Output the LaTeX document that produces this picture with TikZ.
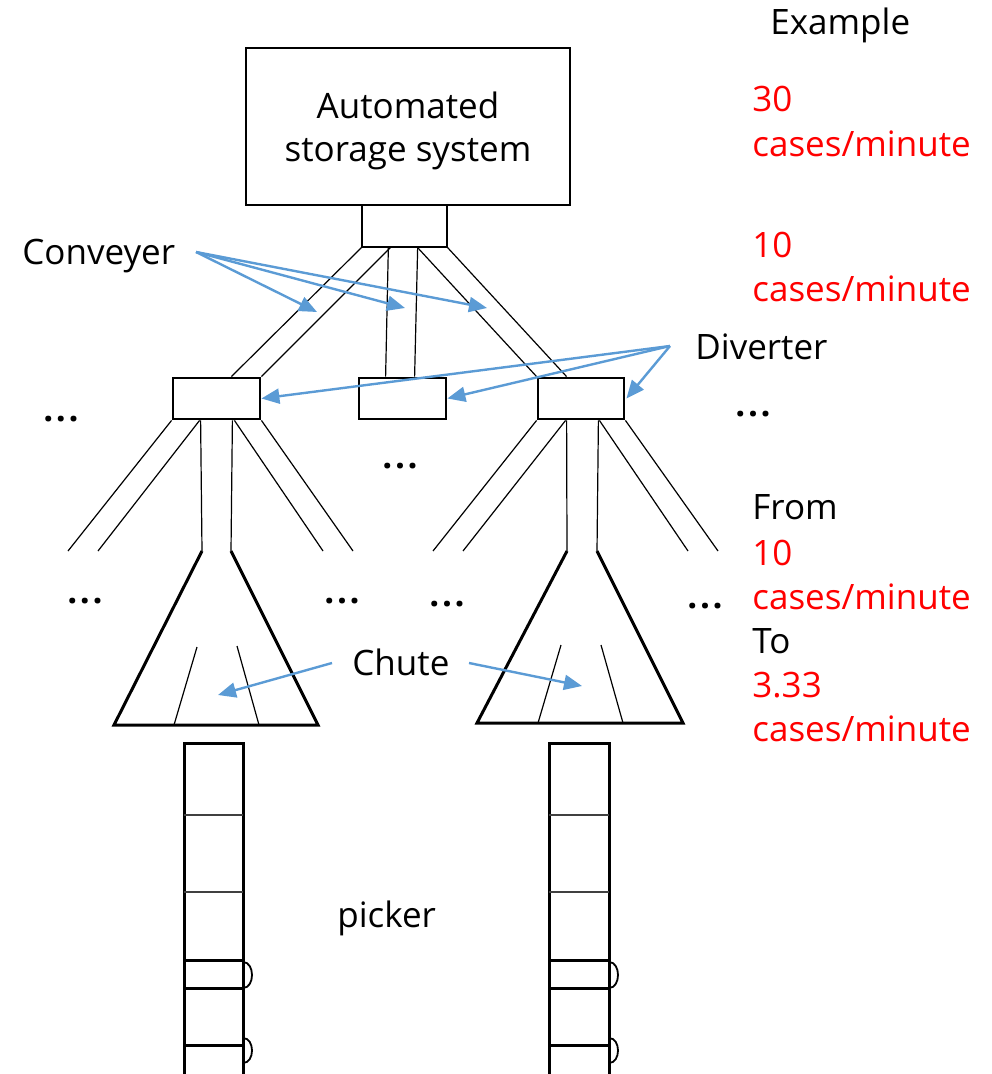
\documentclass[tikz,border=0pt]{standalone}
\usepackage{fontspec}
\setmainfont{Open Sans}
\usetikzlibrary{arrows.meta,calc}
\definecolor{callout}{HTML}{5B9BD5}
\definecolor{rate}{HTML}{FF0000}
\newcommand{\spacedots}{.\kern1.3pt.\kern1.3pt.}

\begin{document}
\begin{tikzpicture}[x=0.5pt,y=-0.5pt,
  lbl/.style={font=\fontsize{17.5}{21}\selectfont, inner sep=0pt, anchor=base west},
  ratelbl/.style={lbl, text=rate},
  ellip/.style={font=\fontsize{17.5}{21}\selectfont\bfseries, inner sep=0pt, anchor=base},
  box/.style={draw, line width=1.4pt, inner sep=0pt},
  divbox/.style={box, minimum height=20.5pt},
  belt/.style={line width=0.6pt},
  chutewall/.style={line width=1.5pt},
  lane/.style={line width=0.6pt},
  column/.style={line width=1.5pt},
  slot/.style={line width=0.7pt, black!75},
  pointer/.style={draw=callout, line width=1.2pt, -{Triangle[length=9pt,width=7.5pt]}}
]
\useasboundingbox (0,0) rectangle (991,1074);

% storage system and its outlet
\node[box, minimum width=162pt, minimum height=78.5pt] (ass) at (408,126.5) {};
\node[font=\fontsize{17.5}{21.5}\selectfont, align=center, inner sep=0pt]
      (assLabel) at ($(ass.center)+(0,4)$) {Automated\\storage system};
\node[draw, line width=0.65pt, minimum width=42.5pt, minimum height=21pt,
      inner sep=0pt] (hub) at (404.5,226) {};

% diverters
\node[divbox, minimum width=43.5pt] (divL) at (216.5,398.5) {};
\node[divbox, minimum width=43.5pt] (divM) at (402.5,398.5) {};
\node[divbox, minimum width=43pt]   (divR) at (581,398.5) {};

% conveyors from the outlet to the diverters
\draw[belt] (hub.south west) -- ($(divL.north east)+(-30,0)$);
\draw[belt] ($(hub.south west)+(29,0)$) -- (divL.north east);
\draw[belt] ($(hub.south west)+(27,0)$) -- ($(divM.north west)+(28,0)$);
\draw[belt] ($(hub.south east)+(-30,0)$) -- ($(divM.north west)+(57,0)$);
\draw[belt] ($(hub.south east)+(-30,0)$) -- (divR.north west);
\draw[belt] (hub.south east) -- ($(divR.north west)+(30,0)$);

% open ends of the branch conveyors
\coordinate (la1) at (68,551);  \coordinate (la2) at (98,551);
\coordinate (lb1) at (323,551); \coordinate (lb2) at (353,551);
\coordinate (ra1) at (433,551); \coordinate (ra2) at (463,551);
\coordinate (rb1) at (688,551); \coordinate (rb2) at (718,551);

% chute corners
\coordinate (lcTL) at (202,551); \coordinate (lcTR) at (231,551);
\coordinate (lcBL) at (114,725); \coordinate (lcBR) at (318,725);
\coordinate (rcTL) at (567,551); \coordinate (rcTR) at (597,551);
\coordinate (rcBL) at (477,723); \coordinate (rcBR) at (683,723);

% branches below the left diverter
\draw[belt] (divL.south west) -- (la1);
\draw[belt] ($(divL.south west)+(28,0)$) -- (la2);
\draw[belt] ($(divL.south west)+(29,0)$) -- (lcTL);
\draw[belt] ($(divL.south east)+(-29,0)$) -- (lcTR);
\draw[belt] ($(divL.south east)+(-27,0)$) -- (lb1);
\draw[belt] (divL.south east) -- (lb2);

% branches below the right diverter
\draw[belt] (divR.south west) -- (ra1);
\draw[belt] ($(divR.south west)+(29,0)$) -- (ra2);
\draw[belt] ($(divR.south west)+(30,0)$) -- (rcTL);
\draw[belt] ($(divR.south east)+(-27,0)$) -- (rcTR);
\draw[belt] ($(divR.south east)+(-26,0)$) -- (rb1);
\draw[belt] (divR.south east) -- (rb2);

% chutes
\draw[chutewall] (lcTL) -- (lcBL) -- (lcBR) -- (lcTR);
\draw[lane] (197,647) -- (174,725);
\draw[lane] (237,646) -- (259,725);
\draw[chutewall] (rcTL) -- (rcBL) -- (rcBR) -- (rcTR);
\draw[lane] (561,645) -- (538,723);
\draw[lane] (601,645) -- (623,723);

% picker lanes
\foreach \xl/\xr in {184/243, 549/609} {
  \draw[column] (\xl,1074) -- (\xl,743) -- (\xr,743) -- (\xr,1074);
  \draw[slot] (\xl,815) -- (\xr,815);
  \draw[slot] (\xl,892) -- (\xr,892);
  \draw[column] (\xl,960) -- (\xr,960);
  \draw[column] (\xl,988) -- (\xr,988);
  \draw[column] (\xl,1045) -- (\xr,1045);
  \draw[line width=0.9pt] (\xr,962) .. controls (\xr+12,962) and (\xr+12,988) .. (\xr,988);
  \draw[line width=0.9pt] (\xr,1038) .. controls (\xr+12,1038) and (\xr+12,1063) .. (\xr,1063);
}

% ellipses marking further branches
\node[ellip] (d1) at (61,422) {\spacedots};
\node[ellip] (d2) at (400,468) {\spacedots};
\node[ellip] (d3) at (753,416) {\spacedots};
\node[ellip] (d4) at (85,603) {\spacedots};
\node[ellip] (d5) at (342,603) {\spacedots};
\node[ellip] (d6) at (447,606) {\spacedots};
\node[ellip] (d7) at (705,608) {\spacedots};

% labels
\node[lbl] (conv) at (22,265) {Conveyer};
\node[lbl] (diverter) at (695,360) {Diverter};
\node[lbl] (chute) at (352,675) {Chute};
\node[lbl] (picker) at (337,927) {picker};

% example rates
\node[lbl] (example) at (770,35) {Example};
\node[ratelbl] (r30) at (752,112) {30};
\node[ratelbl] (r30u) at (752,157) {cases/minute};
\node[ratelbl] (r10) at (752,258) {10};
\node[ratelbl] (r10u) at (752,302) {cases/minute};
\node[lbl] (from) at (752,519) {From};
\node[ratelbl] (f10) at (752,565) {10};
\node[ratelbl] (f10u) at (752,609) {cases/minute};
\node[lbl] (to) at (752,653) {To};
\node[ratelbl] (t333) at (752,697) {3.33};
\node[ratelbl] (t333u) at (752,741) {cases/minute};

% callout arrows
\coordinate (convTail) at (196,252);
\coordinate (tipL) at (317,312);
\coordinate (tipM) at (405,308);
\coordinate (tipR) at (487,308);
\draw[pointer] (convTail) -- (tipL);
\draw[pointer] (convTail) -- (tipM);
\draw[pointer] (convTail) -- (tipR);

\coordinate (divTail) at (670,346);
\draw[pointer] (divTail) -- (divL.east);
\draw[pointer] (divTail) -- (divM.east);
\draw[pointer] (divTail) -- ($(divR.east)+(1,0)$);

\coordinate (chuteTailL) at (332,663);
\coordinate (chuteTailR) at (469,663);
\coordinate (chuteTipL) at (218,695);
\coordinate (chuteTipR) at (582,686);
\draw[pointer] (chuteTailL) -- (chuteTipL);
\draw[pointer] (chuteTailR) -- (chuteTipR);
\end{tikzpicture}
\end{document}
